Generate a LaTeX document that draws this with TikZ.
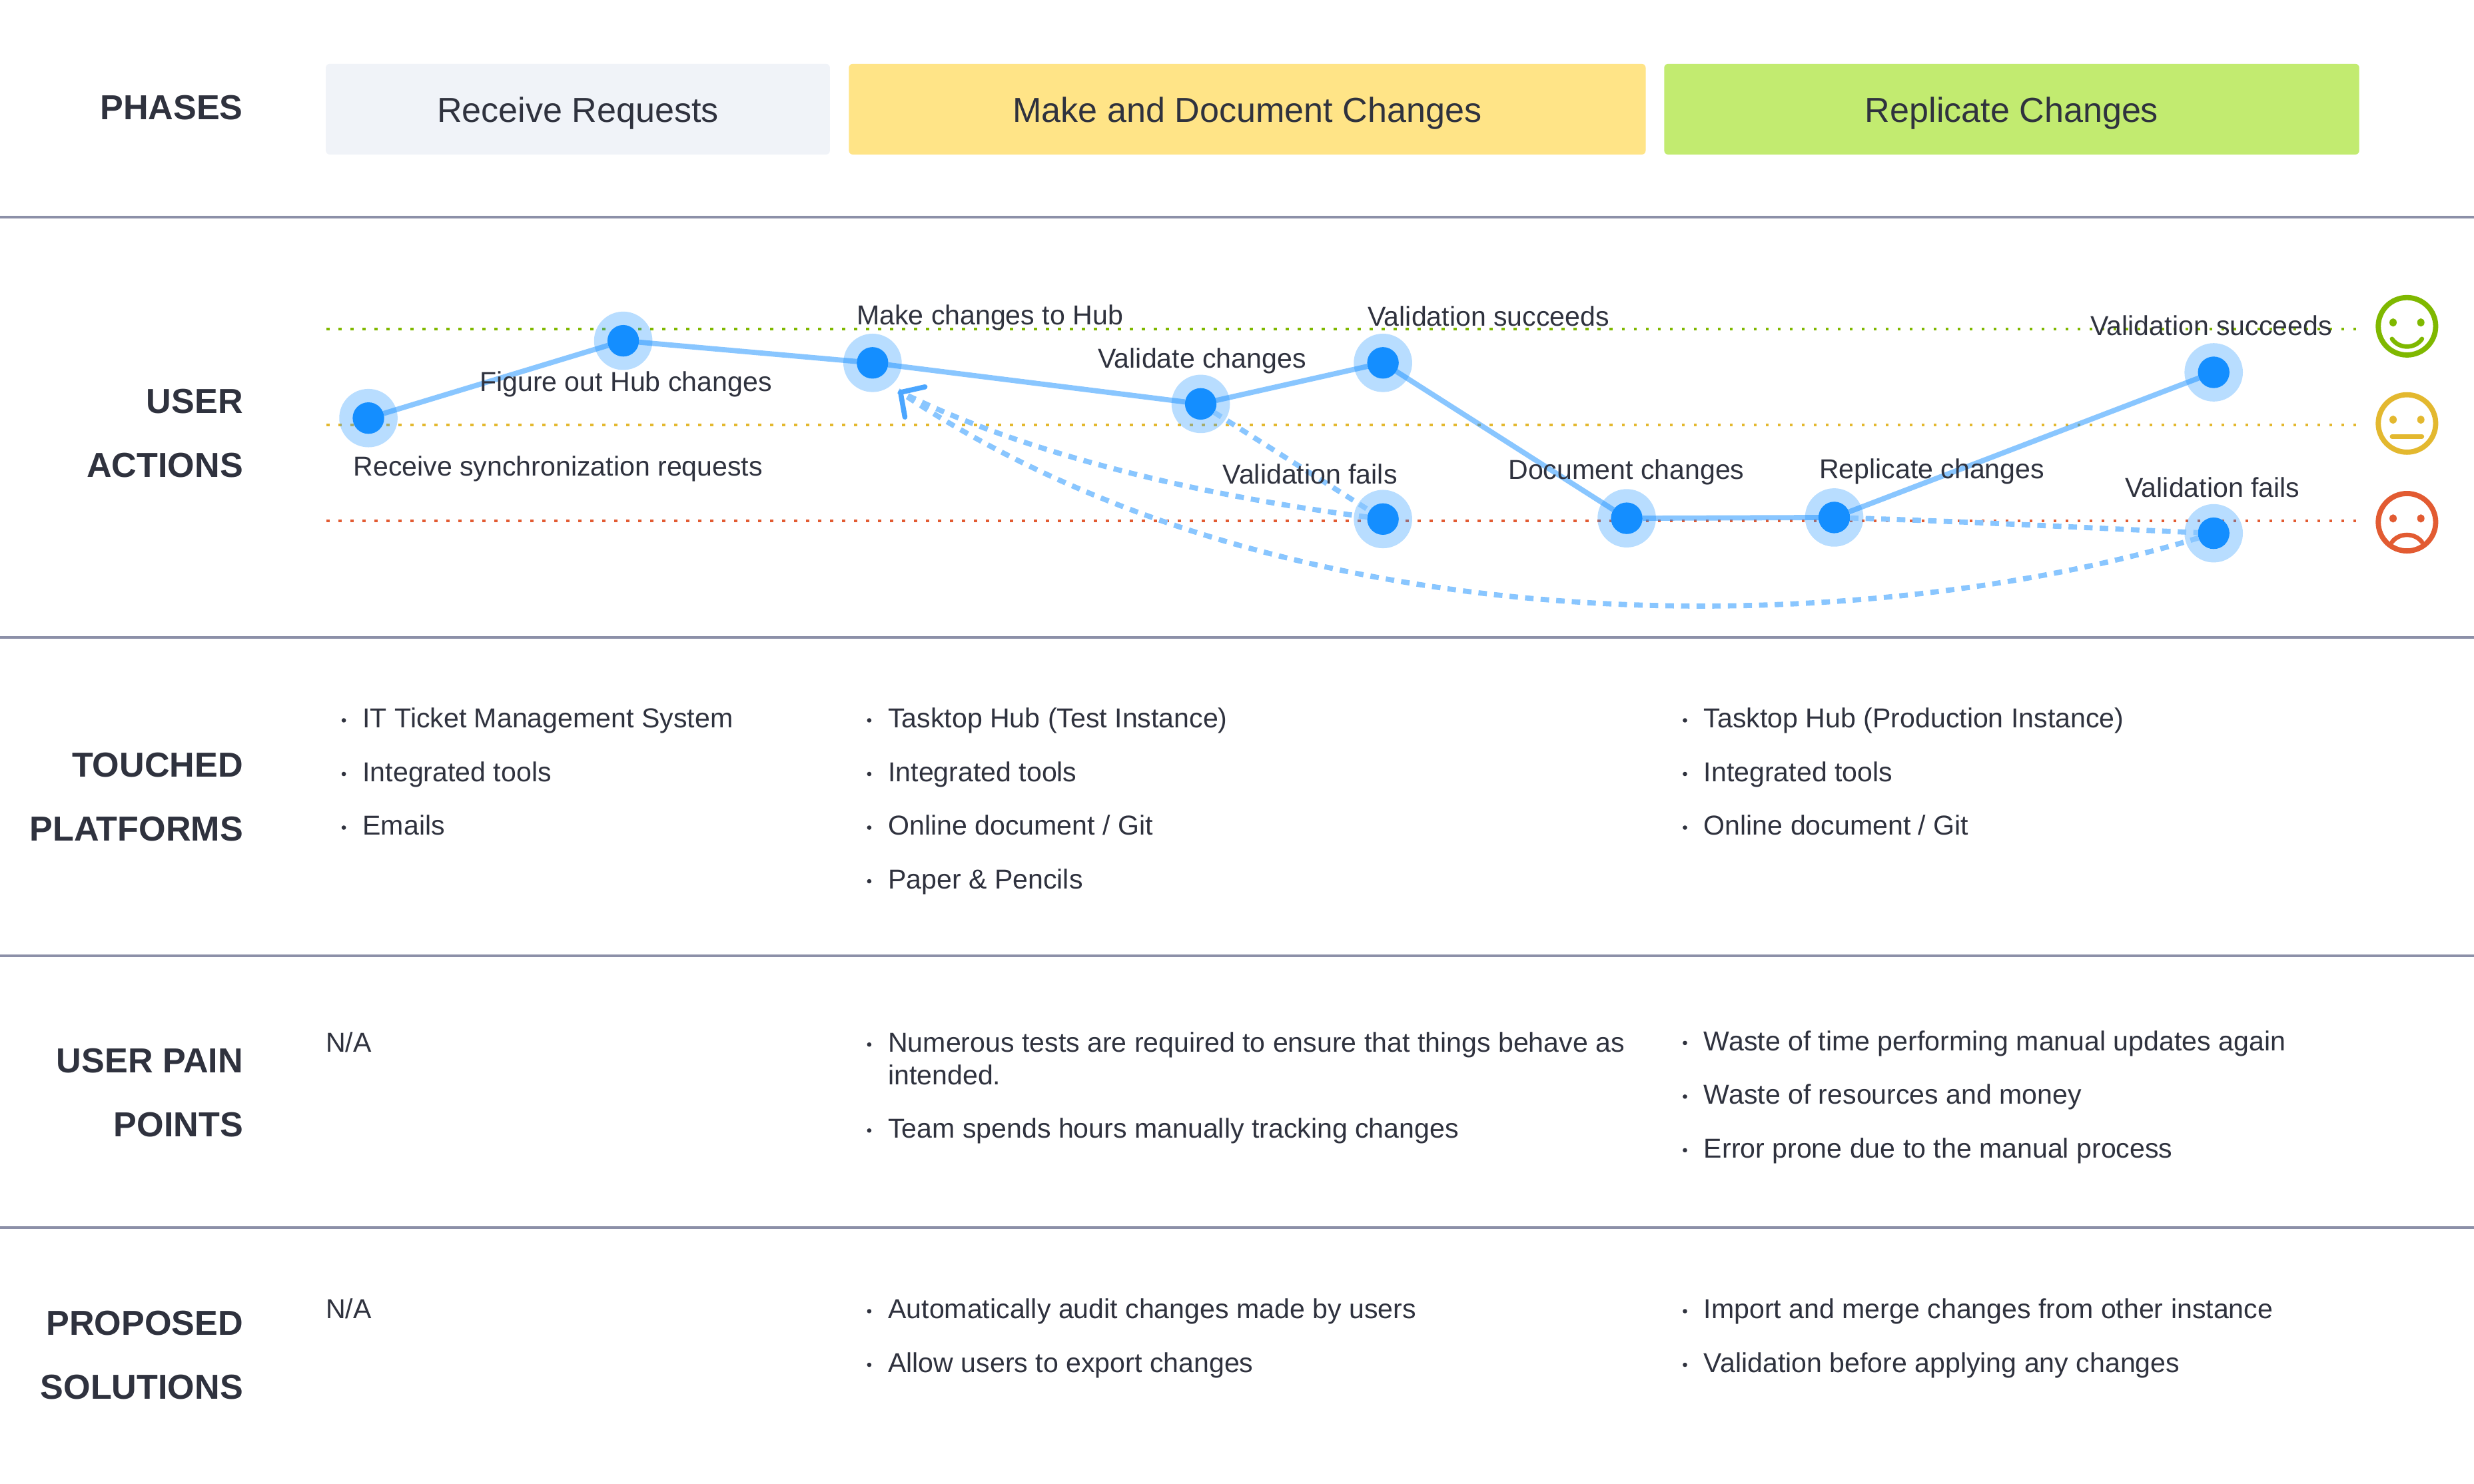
\documentclass[tikz,border=0pt]{standalone}
\usepackage{fontspec}
\setmainfont{Liberation Sans}
\usetikzlibrary{arrows.meta}
\pgfdeclarelayer{bg}
\pgfsetlayers{bg,main}
\definecolor{inkdark}{HTML}{2F323E}
\definecolor{rulegray}{HTML}{8C90A8}
\definecolor{stepblue}{HTML}{148EFF}
\definecolor{lineblue}{HTML}{89C6FF}
\definecolor{tipblue}{HTML}{4BA6FF}
\definecolor{moodgreen}{HTML}{7FB800}
\definecolor{moodyellow}{HTML}{E3B82F}
\definecolor{moodred}{HTML}{E25B32}
\newcommand{\blt}{\makebox[13.4pt][l]{\raisebox{4.8pt}{\tikz[baseline]\fill (0,0) circle [radius=1.4pt];}}}
\tikzset{every picture/.append style={x=1pt, y=-1pt}}
\tikzset{
    every node/.style={inner sep=0pt, outer sep=0pt, text=inkdark},
    heading/.style={anchor=east, align=right, font=\fontsize{22}{40.5}\selectfont\bfseries},
    phasebox/.style={rectangle, rounded corners=2.5pt, minimum height=57.5pt,
    	text height=18pt, text depth=1.6pt, font=\fontsize{22}{28}\selectfont},
    steplabel/.style={anchor=west, text height=12.5pt, text depth=3.5pt, font=\fontsize{17.35}{20.5}\selectfont},
    listblock/.style={anchor=north west, align=left, font=\fontsize{17.35}{20.5}\selectfont},
    stepdot/.style={circle, fill=stepblue, minimum size=20pt},
    stephalo/.style={circle, fill=stepblue, fill opacity=.3, minimum size=37pt},
    journey/.style={draw=stepblue, draw opacity=.5, line width=3.3pt},
    retry/.style={draw=lineblue, line width=3.3pt, dash pattern=on 5.4pt off 4.5pt},
    level/.style={draw=#1, line width=1.7pt, dash pattern=on 1.8pt off 5.8pt},
    sep/.style={draw=rulegray, line width=1.7pt},
    moodline/.style={draw=#1, line width=3.3pt},
    moodmouth/.style={draw=#1, line width=2.8pt, line cap=round}
}

\begin{document}
\begin{tikzpicture}
  \useasboundingbox (0, 0) rectangle (1568, 940.6);

  \draw [sep] (0, 137.6) -- (1568, 137.6);
  \draw [sep] (0, 404) -- (1568, 404);
  \draw [sep] (0, 606) -- (1568, 606);
  \draw [sep] (0, 778) -- (1568, 778);

  % row headings
  \node (h_phases) [heading] at (154, 68) {PHASES};
  \node (h_actions) [heading] at (154, 274.5) {USER\\ACTIONS};
  \node (h_platforms) [heading] at (154, 505) {TOUCHED\\PLATFORMS};
  \node (h_pain) [heading] at (154, 692.5) {USER PAIN\\POINTS};
  \node (h_solutions) [heading] at (154, 859) {PROPOSED\\SOLUTIONS};

  % phases
  \node (ph_receive) [phasebox, fill={rgb,255:red,240;green,243;blue,248}, minimum width=319.5pt] at (366.25, 69.2) {Receive Requests};
  \node (ph_make) [phasebox, fill={rgb,255:red,255;green,228;blue,135}, minimum width=505pt] at (790.5, 69.2) {Make and Document Changes};
  \node (ph_replicate) [phasebox, fill={rgb,255:red,194;green,235;blue,112}, minimum width=440.5pt] at (1275, 69.2) {Replicate Changes};

  % steps
  \node (p1) [stepdot] at (233.5, 265) {};
  \node (p2) [stepdot] at (395, 216) {};
  \node (p3) [stepdot] at (553, 230) {};
  \node (p4) [stepdot] at (761, 256) {};
  \node (p5) [stepdot] at (876.5, 230) {};
  \node (p6) [stepdot] at (876.5, 329) {};
  \node (p7) [stepdot] at (1031, 328.5) {};
  \node (p8) [stepdot] at (1162.5, 328) {};
  \node (p9) [stepdot] at (1403, 236) {};
  \node (p10) [stepdot] at (1403, 338) {};
  \coordinate (tip) at (569.4, 247.8);

  \begin{pgfonlayer}{bg}
    \draw [level=moodgreen] (207, 208.5) -- (1495, 208.5);
    \draw [level=moodyellow] (207, 269.3) -- (1495, 269.3);
    \draw [level=moodred] (207, 330) -- (1495, 330);
    \node (g1) [stephalo] at (p1) {};
    \node (g2) [stephalo] at (p2) {};
    \node (g3) [stephalo] at (p3) {};
    \node (g4) [stephalo] at (p4) {};
    \node (g5) [stephalo] at (p5) {};
    \node (g6) [stephalo] at (p6) {};
    \node (g7) [stephalo] at (p7) {};
    \node (g8) [stephalo] at (p8) {};
    \node (g9) [stephalo] at (p9) {};
    \node (g10) [stephalo] at (p10) {};
  \end{pgfonlayer}

  \draw [journey] (p1) -- (p2);
  \draw [journey] (p2) -- (p3);
  \draw [journey] (p3) -- (p4);
  \draw [journey] (p4) -- (p5);
  \draw [journey] (p5) -- (p7);
  \draw [journey] (p7) -- (p8);
  \draw [journey] (p8) -- (p9);
  \draw [retry] (p4) -- (p6);
  \draw [retry] (p8) .. controls (1260, 331) and (1330, 335) .. (p10);
  \draw [retry] (p6) .. controls (760, 314) and (650, 288) .. (tip);
  \draw [retry, -{Straight Barb[color=tipblue, length=11pt, width=23pt, line width=3.2pt, round]}] (p10) .. controls (1190, 403) and (825, 418) .. (tip);

  \node (l1) [steplabel] at (224, 297.2) {Receive synchronization requests};
  \node (l2) [steplabel] at (304, 243.7) {Figure out Hub changes};
  \node (l3) [steplabel] at (543, 201.2) {Make changes to Hub};
  \node (l4) [steplabel] at (696, 228.7) {Validate changes};
  \node (l5) [steplabel] at (867, 202.2) {Validation succeeds};
  \node (l6) [steplabel] at (775, 302.2) {Validation fails};
  \node (l7) [steplabel] at (956, 299.2) {Document changes};
  \node (l8) [steplabel] at (1153, 298.7) {Replicate changes};
  \node (l9) [steplabel] at (1325, 208.2) {Validation succeeds};
  \node (l10) [steplabel] at (1347, 310.7) {Validation fails};

  % mood scale
  \begin{scope}[shift={(1525.5, 206.8)}]
    \draw [moodline=moodgreen] (0, 0) circle [radius=18.2];
    \fill [moodgreen] (-8.8, -2.4) circle [x radius=2.3, y radius=2.6];
    \fill [moodgreen] (8.8, -2.4) circle [x radius=2.3, y radius=2.6];
    \draw [moodmouth=moodgreen] (-9.5, 8) .. controls (-5, 14.5) and (5, 14.5) .. (9.5, 8);
  \end{scope}
  \begin{scope}[shift={(1525.5, 268.4)}]
    \draw [moodline=moodyellow] (0, 0) circle [radius=18.2];
    \fill [moodyellow] (-8.8, -2.4) circle [x radius=2.3, y radius=2.6];
    \fill [moodyellow] (8.8, -2.4) circle [x radius=2.3, y radius=2.6];
    \draw [moodmouth=moodyellow] (-9.5, 8.3) -- (9.5, 8.3);
  \end{scope}
  \begin{scope}[shift={(1525.5, 331)}]
    \draw [moodline=moodred] (0, 0) circle [radius=18.2];
    \fill [moodred] (-8.8, -2.4) circle [x radius=2.3, y radius=2.6];
    \fill [moodred] (8.8, -2.4) circle [x radius=2.3, y radius=2.6];
    \draw [moodmouth=moodred] (-9.5, 12.6) .. controls (-5, 6.5) and (5, 6.5) .. (9.5, 12.6);
  \end{scope}

  % touched platforms
  \node (tp_a) [listblock] at (216.5, 448.8) {\blt IT Ticket Management System\\[13.5pt]\blt Integrated tools\\[13.5pt]\blt Emails};
  \node (tp_b) [listblock] at (549.5, 448.8) {\blt Tasktop Hub (Test Instance)\\[13.5pt]\blt Integrated tools\\[13.5pt]\blt Online document / Git\\[13.5pt]\blt Paper \& Pencils};
  \node (tp_c) [listblock] at (1066.5, 448.8) {\blt Tasktop Hub (Production Instance)\\[13.5pt]\blt Integrated tools\\[13.5pt]\blt Online document / Git};

  % user pain points
  \node (up_a) [listblock] at (206.5, 654.3) {N/A};
  \node (up_b) [listblock] at (549.5, 654.3) {\blt Numerous tests are required to ensure that things behave as\\\hspace*{13.4pt}intended.\\[13.5pt]\blt Team spends hours manually tracking changes};
  \node (up_c) [listblock] at (1066.5, 653.3) {\blt Waste of time performing manual updates again\\[13.5pt]\blt Waste of resources and money\\[13.5pt]\blt Error prone due to the manual process};

  % proposed solutions
  \node (ps_a) [listblock] at (206.5, 823.3) {N/A};
  \node (ps_b) [listblock] at (549.5, 823.3) {\blt Automatically audit changes made by users\\[13.5pt]\blt Allow users to export changes};
  \node (ps_c) [listblock] at (1066.5, 823.3) {\blt Import and merge changes from other instance\\[13.5pt]\blt Validation before applying any changes};
\end{tikzpicture}
\end{document}
